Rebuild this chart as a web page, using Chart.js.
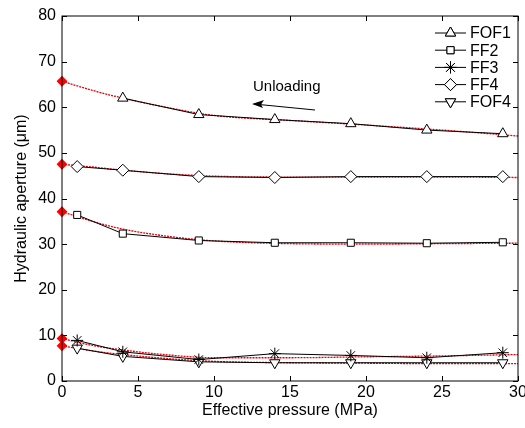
<!DOCTYPE html>
<html>
<head>
<meta charset="utf-8">
<script src="https://cdn.jsdelivr.net/npm/chart.js@4.4.1/dist/chart.umd.min.js"></script>
<style>
  html, body { margin: 0; padding: 0; background: #fff; }
  #wrap { width: 525px; height: 428px; }
</style>
</head>
<body>
<div id="wrap"><canvas id="apertureChart" width="525" height="428"></canvas></div>
<script>
// measured points (black lines with markers)
const pressure = [1, 4, 9, 14, 19, 24, 29];
const pressureFOF1 = [4, 9, 14, 19, 24, 29];
const fof1 = [62.0, 58.4, 57.3, 56.4, 55.0, 54.2];
const ff2 = [36.4, 32.3, 30.8, 30.3, 30.3, 30.2, 30.4];
const ff3 = [8.9, 6.4, 4.7, 6.0, 5.6, 5.1, 6.2];
const ff4 = [47.0, 46.2, 44.8, 44.6, 44.8, 44.8, 44.8];
const fof4 = [7.2, 5.4, 4.2, 4.0, 4.0, 4.0, 4.0];

// red fitted curves
const fitX = [0, 2, 4, 7, 10, 15, 20, 25, 30];
const fitFOF1 = [65.7, 63.7, 62.0, 59.9, 58.2, 57.1, 56.1, 55.0, 53.7];
const fitFF2 = [37.1, 35.0, 33.3, 31.7, 30.7, 30.1, 30.0, 30.1, 30.2];
const fitFF3 = [9.3, 7.8, 6.8, 5.7, 5.1, 5.1, 5.3, 5.5, 5.8];
const fitFF4 = [47.5, 46.9, 46.2, 45.4, 44.9, 44.7, 44.7, 44.7, 44.6];
const fitFOF4 = [7.7, 6.6, 5.8, 4.9, 4.3, 4.0, 3.9, 3.8, 3.8];

const xTicks = [0, 5, 10, 15, 20, 25, 30];
const yTicks = [0, 10, 20, 30, 40, 50, 60, 70, 80];

const FONT = '"Liberation Sans", Arial, sans-serif';

function pts(xs, ys) {
    return xs.map((x, i) => ({ x: x, y: ys[i] }));
}

function measured(label, xs, ys, style, rot) {
    return {
        label: label,
        data: pts(xs, ys),
        borderColor: '#000',
        borderWidth: 1,
        pointStyle: style,
        rotation: rot || 0,
        pointRadius: style === 'rect' ? 5 : 6,
        pointBackgroundColor: '#fff',
        pointBorderColor: '#000',
        pointBorderWidth: 1,
        tension: 0,
        clip: false,
        order: 1
    };
}

function fitted(ys) {
    return {
        label: '_fit',
        data: pts(fitX, ys),
        borderColor: '#e8000b',
        borderWidth: 1.3,
        borderDash: [2, 1],
        cubicInterpolationMode: 'monotone',
        pointRadius: ctx => ctx.dataIndex === 0 ? 4.5 : 0,
        pointStyle: 'rectRot',
        pointBackgroundColor: '#ff0000',
        pointBorderColor: '#ff0000',
        clip: false,
        order: 2
    };
}

const series = [
    measured('FOF1', pressureFOF1, fof1, 'triangle'),
    measured('FF2', pressure, ff2, 'rect'),
    measured('FF3', pressure, ff3, 'star'),
    measured('FF4', pressure, ff4, 'rectRot'),
    measured('FOF4', pressure, fof4, 'triangle', 180)
];

// frame, inward ticks, titles, legend and the unloading arrow
const decorPlugin = {
    id: 'decor',
    afterDraw(chart) {
        const c = chart.ctx;
        const a = chart.chartArea;
        const xs = chart.scales.x, ys = chart.scales.y;
        c.save();
        c.strokeStyle = '#000';
        c.lineWidth = 1;
        c.strokeRect(a.left, a.top, a.right - a.left, a.bottom - a.top);
        c.beginPath();
        xTicks.forEach(v => {
            const px = Math.round(xs.getPixelForValue(v)) + 0.5;
            c.moveTo(px, a.bottom); c.lineTo(px, a.bottom - 5);
            c.moveTo(px, a.top); c.lineTo(px, a.top + 5);
        });
        yTicks.forEach(v => {
            const py = Math.round(ys.getPixelForValue(v)) + 0.5;
            c.moveTo(a.left, py); c.lineTo(a.left + 5, py);
            c.moveTo(a.right, py); c.lineTo(a.right - 5, py);
        });
        c.stroke();

        // x tick labels
        c.fillStyle = '#000';
        c.font = '16px ' + FONT;
        c.textAlign = 'center';
        c.textBaseline = 'middle';
        xTicks.forEach(v => {
            c.fillText(String(v), xs.getPixelForValue(v), a.bottom + 12);
        });

        // axis titles
        c.fillText('Effective pressure (MPa)', (a.left + a.right) / 2, 411);
        c.save();
        c.translate(22, (a.top + a.bottom) / 2);
        c.rotate(-Math.PI / 2);
        c.fillText('Hydraulic aperture (\u03bcm)', 0, 0);
        c.restore();

        // unloading note
        c.textAlign = 'left';
        c.font = '15px ' + FONT;
        c.fillText('Unloading', 253, 87);
        c.beginPath();
        c.moveTo(315, 110); c.lineTo(254, 104);
        c.stroke();
        c.beginPath();
        c.moveTo(252, 104); c.lineTo(264, 100); c.lineTo(261, 104.5); c.lineTo(263, 108);
        c.closePath();
        c.fill();

        // legend
        c.font = '16px ' + FONT;
        series.forEach((ds, i) => {
            const y = 33 + i * 17.2;
            c.strokeStyle = '#000';
            c.lineWidth = 1;
            c.beginPath();
            c.moveTo(435, y); c.lineTo(466, y);
            c.stroke();
            Chart.helpers.drawPoint(c, {
                pointStyle: ds.pointStyle,
                rotation: ds.rotation,
                radius: ds.pointRadius,
                borderWidth: 1
            }, 450.5, y);
            c.fillStyle = '#fff';
            c.fill();
            c.stroke();
            c.fillStyle = '#000';
            c.fillText(ds.label, 470, y + 1);
        });
        c.restore();
    }
};

new Chart(document.getElementById('apertureChart'), {
    type: 'line',
    data: {
        datasets: series.concat([
            fitted(fitFOF1), fitted(fitFF2), fitted(fitFF3), fitted(fitFF4), fitted(fitFOF4)
        ])
    },
    options: {
        responsive: false,
        animation: false,
        layout: { padding: { left: 0, right: 7, top: 16, bottom: 0 } },
        plugins: { legend: { display: false }, tooltip: { enabled: false } },
        scales: {
            x: {
                type: 'linear',
                min: 0, max: 30,
                afterBuildTicks: s => { s.ticks = xTicks.map(v => ({ value: v })); },
                afterFit: s => { s.height = 47; },
                grid: { display: false, drawTicks: false },
                border: { display: false },
                ticks: { display: false }
            },
            y: {
                min: 0, max: 80,
                afterBuildTicks: s => { s.ticks = yTicks.map(v => ({ value: v })); },
                afterFit: s => { s.width = 62; },
                grid: { display: false, drawTicks: false },
                border: { display: false },
                ticks: { color: '#000', padding: 6, font: { family: FONT, size: 16 } }
            }
        }
    },
    plugins: [decorPlugin]
});
</script>
</body>
</html>
